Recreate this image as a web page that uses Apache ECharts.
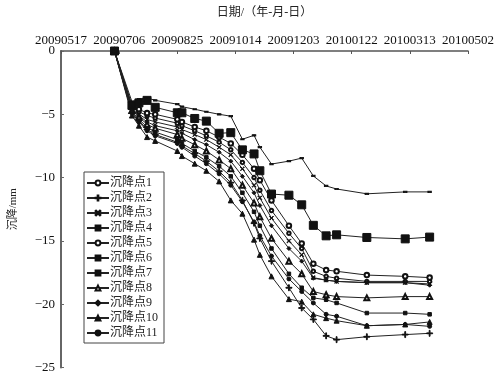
<!DOCTYPE html>
<html>
<head>
<meta charset="utf-8">
<script src="https://cdn.jsdelivr.net/npm/echarts@6/dist/echarts.min.js"></script>
<style>
  html, body { margin: 0; padding: 0; background: #fff; }
  #chart { width: 497px; height: 374px; }
</style>
</head>
<body>
<div id="chart"></div>
<script>
// measurement dates
const dates = ['20090702', '20090717', '20090723', '20090730', '20090806', '20090825', '20090829',
  '20090909', '20090919', '20090930', '20091010', '20091020', '20091030', '20091104', '20091114',
  '20091129', '20091210', '20091220', '20091231', '20100109', '20100204', '20100309', '20100330']

const xTickLabels = ['20090517', '20090706', '20090825', '20091014', '20091203', '20100122', '20100313', '20100502']
const yTickLabels = ['-25', '-20', '-15', '-10', '-5', '0']

const names = ['沉降点1', '沉降点2', '沉降点3', '沉降点4', '沉降点5', '沉降点6',
  '沉降点7', '沉降点8', '沉降点9', '沉降点10', '沉降点11']

const pt1 = [0, -4.4, -4.8, -5.1, -5.3, -5.7, -5.9, -6.3, -6.7, -7.2, -7.8, -8.8, -10.0, -11.0, -12.6, -14.4, -15.6, -17.4, -17.8, -17.95, -18.2, -18.2, -18.2]
const pt2 = [0, -4.9, -5.5, -6.2, -6.6, -7.2, -7.5, -8.1, -8.7, -9.5, -10.4, -11.8, -13.6, -14.8, -16.6, -18.7, -20.3, -21.2, -22.5, -22.8, -22.57, -22.4, -22.3]
const pt3 = [0, -4.5, -5.0, -5.4, -5.6, -6.0, -6.2, -6.6, -7.0, -7.6, -8.2, -9.3, -10.6, -11.6, -13.2, -15.0, -16.1, -17.9, -18.1, -18.2, -18.3, -18.3, -18.4]
const pt4 = [0, -4.8, -5.4, -6.0, -6.4, -7.0, -7.3, -7.9, -8.4, -9.1, -9.9, -11.2, -12.7, -13.8, -15.6, -17.6, -18.7, -19.5, -19.65, -19.9, -20.7, -20.7, -20.8]
const pt5 = [0, -4.3, -4.6, -4.9, -5.0, -5.4, -5.6, -6.0, -6.3, -6.8, -7.3, -8.2, -9.3, -10.2, -11.8, -13.8, -15.2, -16.8, -17.3, -17.4, -17.7, -17.8, -17.9]
const pt6 = [0, -4.3, -4.1, -3.9, -4.45, -4.88, -4.88, -5.33, -5.54, -6.5, -6.45, -7.81, -8.13, -9.46, -11.3, -11.39, -12.15, -13.77, -14.6, -14.52, -14.73, -14.84, -14.7]
const pt7 = [0, -4.0, -3.8, -3.7, -3.9, -4.2, -4.4, -4.6, -4.8, -5.0, -5.15, -6.97, -6.66, -7.6, -8.93, -8.7, -8.46, -9.87, -10.66, -10.9, -11.28, -11.13, -11.13]
const pt8 = [0, -4.7, -5.2, -5.8, -6.1, -6.6, -6.9, -7.4, -7.9, -8.6, -9.3, -10.6, -12.0, -13.1, -14.8, -16.6, -17.6, -19.0, -19.25, -19.4, -19.5, -19.4, -19.4]
const pt9 = [0, -4.6, -5.1, -5.6, -5.9, -6.3, -6.5, -7.0, -7.4, -8.0, -8.7, -9.9, -11.2, -12.2, -13.8, -15.6, -16.6, -17.95, -18.1, -18.2, -18.3, -18.3, -18.5]
const pt10 = [0, -5.1, -5.9, -6.8, -7.1, -7.9, -8.3, -8.9, -9.46, -10.3, -11.8, -12.85, -14.9, -16.1, -17.8, -19.6, -19.8, -20.8, -21.1, -21.3, -21.7, -21.6, -21.4]
const pt11 = [0, -4.9, -5.6, -6.3, -6.7, -7.3, -7.6, -8.3, -8.9, -9.7, -10.6, -11.9, -13.5, -14.6, -16.2, -18.0, -19.0, -19.9, -20.8, -20.95, -21.7, -21.6, -21.75]

const values = [pt1, pt2, pt3, pt4, pt5, pt6, pt7, pt8, pt9, pt10, pt11]

const PLUS = 'path://M4.3,0h1.4v4.3h4.3v1.4h-4.3v4.3h-1.4v-4.3h-4.3v-1.4h4.3z'
const CROSS = 'path://M1,0L5,4L9,0L10,1L6,5L10,9L9,10L5,6L1,10L0,9L4,5L0,1z'
const symbols = [
  ['emptyCircle', 3.5], [PLUS, 6], [CROSS, 4], ['rect', 3.5], ['emptyCircle', 4.5], ['rect', 8],
  ['rect', [3, 1.5]], ['emptyTriangle', 5], ['diamond', 4], ['triangle', 5], ['circle', 4],
]

const startDay = Date.UTC(2009, 4, 17)
const dayOf = (s) =>
  (Date.UTC(+s.slice(0, 4), +s.slice(4, 6) - 1, +s.slice(6, 8)) - startDay) / 86400000

const days = dates.map(dayOf)

const serifFont = '"Liberation Serif", "Noto Sans CJK SC", serif'

const chart = echarts.init(document.getElementById('chart'))

const option = {
  animation: false,
  backgroundColor: '#fff',
  textStyle: { fontFamily: serifFont },
  grid: { left: 59, top: 51, right: 26, bottom: 4, containLabel: false },
  legend: {
    data: names,
    orient: 'vertical',
    left: 84,
    top: 172,
    itemWidth: 22,
    itemHeight: 6,
    itemGap: 3,
    borderColor: '#444',
    borderWidth: 1,
    padding: [5, 6, 4, 2],
    textStyle: { fontSize: 12, color: '#222', fontFamily: serifFont, padding: [0, 0, 0, -4] },
  },
  xAxis: {
    type: 'value',
    position: 'top',
    min: 0,
    max: 350,
    interval: 50,
    name: '日期/（年-月-日）',
    nameLocation: 'middle',
    nameGap: 32,
    nameTextStyle: { fontSize: 12, color: '#222', fontFamily: serifFont },
    axisLine: { lineStyle: { color: '#555', width: 1.5 } },
    axisTick: { show: true, inside: true, length: 3, lineStyle: { color: '#555' } },
    axisLabel: {
      fontSize: 13,
      color: '#111',
      margin: 4,
      fontFamily: serifFont,
      formatter: (v) => xTickLabels[Math.round(v / 50)],
    },
    splitLine: { show: false },
  },
  yAxis: {
    type: 'value',
    min: -25,
    max: 0,
    interval: 5,
    name: '沉降/mm',
    nameLocation: 'middle',
    nameGap: 42,
    nameRotate: 90,
    nameTextStyle: { fontSize: 11, color: '#222', fontFamily: serifFont },
    axisLine: { lineStyle: { color: '#666', width: 2 } },
    axisTick: { show: true, inside: true, length: 3, lineStyle: { color: '#666' } },
    axisLabel: {
      fontSize: 13,
      color: '#111',
      margin: 6,
      fontFamily: serifFont,
      formatter: (v) => yTickLabels[Math.round((v + 25) / 5)].replace('-', '\u2212'),
    },
    splitLine: { show: false },
  },
  series: names.map((name, i) => ({
    name,
    type: 'line',
    data: values[i].map((v, j) => [days[j], v]),
    symbol: symbols[i][0],
    symbolSize: symbols[i][1],
    showAllSymbol: true,
    lineStyle: { color: '#222', width: 1 },
    itemStyle: { color: '#111', borderColor: '#111', borderWidth: 1 },
  })),
}

chart.setOption(option)
</script>
</body>
</html>
